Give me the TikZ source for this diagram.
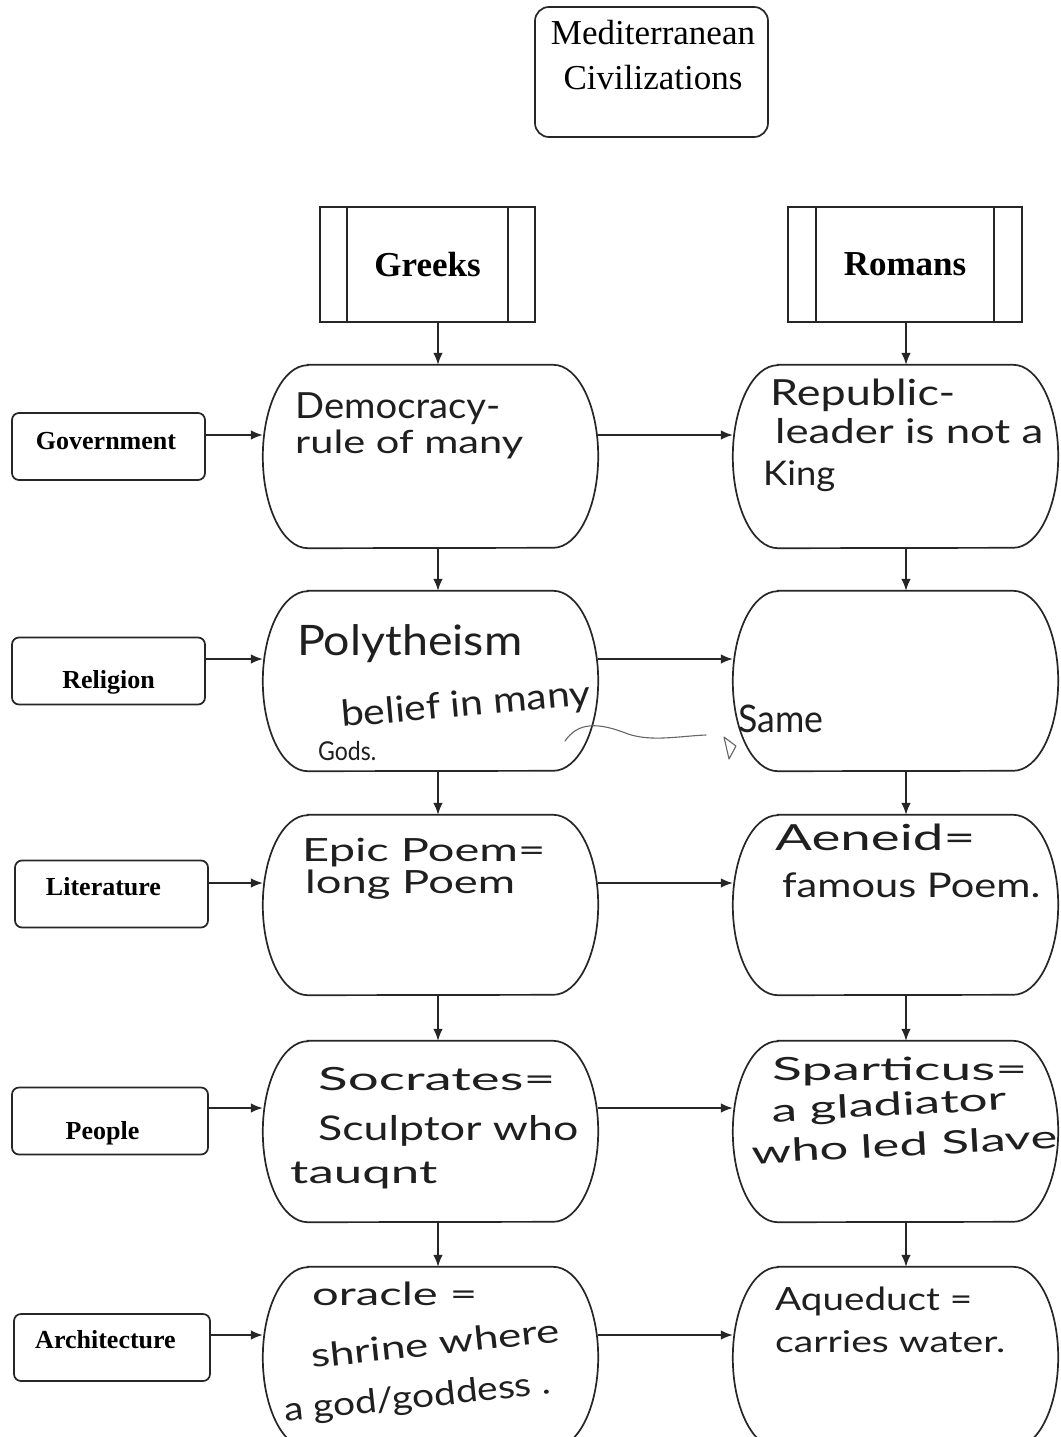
\documentclass[tikz,border=0pt]{standalone}
\usepackage{fontspec}
\usepackage{graphicx}
\setmainfont{Liberation Serif}
\newfontfamily\handfont{Lato}
\usetikzlibrary{arrows.meta,calc}

% handwritten line: size, width, text
\newcommand\hw[3]{\resizebox{#2pt}{\height}{\fontsize{#1pt}{#1pt}\selectfont\handfont #3}}
% horizontal radius of the curved cell sides
\newcommand\cellr{45pt}
% outline of a cell: flat top and bottom, half-ellipse sides
\newcommand\cellframe[2]{%
  \draw[ln] ([xshift=\cellr]#1.north west) -- ([xshift=-\cellr]#1.north east)
    arc[start angle=90,end angle=-90,x radius=\cellr,y radius=#2pt]
    -- ([xshift=\cellr]#1.south west)
    arc[start angle=270,end angle=90,x radius=\cellr,y radius=#2pt] -- cycle;}

\tikzset{
  ln/.style={draw=black!85, line width=1.7pt},
  arr/.style={draw=black!85, line width=1.5pt, -{Latex[length=12pt,width=9.5pt]}},
  procbox/.style={rectangle, ln, inner sep=0pt, font=\fontsize{35}{40}\selectfont\bfseries},
  labbox/.style={rectangle, ln, rounded corners=7pt, minimum height=67pt},
  labtext/.style={font=\fontsize{26}{30}\selectfont\bfseries, inner sep=0pt},
  cellbox/.style={rectangle, draw=none, inner sep=0pt},
  hand/.style={inner sep=0pt, anchor=base west, text=black!88},
  pen/.style={draw=black!60, line width=1.1pt, line cap=round, line join=round}
}

\begin{document}
\begin{tikzpicture}[x=1pt,y=-1pt]
\useasboundingbox (0,0) rectangle (1060,1437);
\fill[white] (0,0) rectangle (1060,1437);
\clip (0,0) rectangle (1060,1437);

% title
\node[rectangle, ln, rounded corners=14pt, minimum width=233pt, minimum height=130pt] (title) at (651.5,72) {};
\node[align=center, inner sep=0pt, font=\fontsize{35}{45}\selectfont] (titletext) at (653,55) {Mediterranean\\Civilizations};

% column heads
\node[procbox, minimum width=215pt, minimum height=115pt,
  path picture={
    \draw[ln] ([xshift=27pt]path picture bounding box.north west) -- ([xshift=27pt]path picture bounding box.south west);
    \draw[ln] ([xshift=-27pt]path picture bounding box.north east) -- ([xshift=-27pt]path picture bounding box.south east);
  }] (greeks) at (427.5,264.5) {Greeks};
\node[procbox, minimum width=234pt, minimum height=115pt,
  path picture={
    \draw[ln] ([xshift=28pt]path picture bounding box.north west) -- ([xshift=28pt]path picture bounding box.south west);
    \draw[ln] ([xshift=-28pt]path picture bounding box.north east) -- ([xshift=-28pt]path picture bounding box.south east);
  }] (romans) at (905,264.5) {Romans};

% row labels
\node[labbox, minimum width=193pt] (gov) at (108.5,446.5) {};
\node[labtext] (govt) at (106,441) {Government};
\node[labbox, minimum width=193pt] (rel) at (108.5,671) {};
\node[labtext] (relt) at (108.5,682) {Religion};
\node[labbox, minimum width=193pt] (lit) at (111.5,894) {};
\node[labtext] (litt) at (103.5,887) {Literature};
\node[labbox, minimum width=196pt] (peo) at (110,1121) {};
\node[labtext] (peot) at (102.5,1133) {People};
\node[labbox, minimum width=196pt] (arch) at (112,1347.5) {};
\node[labtext] (archt) at (105.5,1340) {Architecture};

% cells
\node[cellbox, minimum width=335pt, minimum height=183pt] (g1) at (430.5,456.5) {};
\node[cellbox, minimum width=335pt, minimum height=180pt] (g2) at (430.5,681) {};
\node[cellbox, minimum width=335pt, minimum height=180pt] (g3) at (430.5,905) {};
\node[cellbox, minimum width=335pt, minimum height=181pt] (g4) at (430.5,1131.5) {};
\node[cellbox, minimum width=335pt, minimum height=181pt] (g5) at (430.5,1357.5) {};
\node[cellbox, minimum width=325pt, minimum height=183pt] (r1) at (895.5,456.5) {};
\node[cellbox, minimum width=325pt, minimum height=180pt] (r2) at (895.5,681) {};
\node[cellbox, minimum width=325pt, minimum height=180pt] (r3) at (895.5,905) {};
\node[cellbox, minimum width=325pt, minimum height=181pt] (r4) at (895.5,1131.5) {};
\node[cellbox, minimum width=325pt, minimum height=181pt] (r5) at (895.5,1357.5) {};
\cellframe{g1}{91.5}\cellframe{g2}{90}\cellframe{g3}{90}\cellframe{g4}{90.5}\cellframe{g5}{90.5}
\cellframe{r1}{91.5}\cellframe{r2}{90}\cellframe{r3}{90}\cellframe{r4}{90.5}\cellframe{r5}{90.5}

% connector guides
\coordinate (gx) at (438,0);
\coordinate (rx) at (906,0);
\coordinate (row1) at (0,435);
\coordinate (row2) at (0,659);
\coordinate (row3) at (0,883);
\coordinate (row4) at (0,1108);
\coordinate (row5) at (0,1335);

% vertical arrows
\draw[arr] (greeks.south -| gx) -- (g1.north -| gx);
\draw[arr] (g1.south -| gx) -- (g2.north -| gx);
\draw[arr] (g2.south -| gx) -- (g3.north -| gx);
\draw[arr] (g3.south -| gx) -- (g4.north -| gx);
\draw[arr] (g4.south -| gx) -- (g5.north -| gx);
\draw[arr] (romans.south -| rx) -- (r1.north -| rx);
\draw[arr] (r1.south -| rx) -- (r2.north -| rx);
\draw[arr] (r2.south -| rx) -- (r3.north -| rx);
\draw[arr] (r3.south -| rx) -- (r4.north -| rx);
\draw[arr] (r4.south -| rx) -- (r5.north -| rx);

% horizontal arrows
\draw[arr] (gov.east |- row1) -- (g1.west |- row1);
\draw[arr] (rel.east |- row2) -- (g2.west |- row2);
\draw[arr] (lit.east |- row3) -- (g3.west |- row3);
\draw[arr] (peo.east |- row4) -- (g4.west |- row4);
\draw[arr] (arch.east |- row5) -- (g5.west |- row5);
\draw[arr] (g1.east |- row1) -- (r1.west |- row1);
\draw[arr] (g2.east |- row2) -- (r2.west |- row2);
\draw[arr] (g3.east |- row3) -- (r3.west |- row3);
\draw[arr] (g4.east |- row4) -- (r4.west |- row4);
\draw[arr] (g5.east |- row5) -- (r5.west |- row5);

% handwritten notes
\node[hand] (t1a) at (295,418) {\hw{36}{205}{Democracy-}};
\node[hand] (t1b) at (295,453) {\hw{32}{228}{rule of many}};
\node[hand] (u1a) at (770,405) {\hw{36}{185}{Republic-}};
\node[hand] (u1b) at (775,443) {\hw{34}{268}{leader is not a}};
\node[hand] (u1c) at (763,485) {\hw{34}{72}{King}};

\node[hand] (t2a) at (297,655) {\hw{42}{225}{Polytheism}};
\node[hand, rotate=5] (t2b) at (342,727) {\hw{36}{250}{belief in many}};
\node[hand] (t2c) at (318,760) {\hw{26}{58}{Gods.}};
\node[hand] (u2a) at (738,732) {\hw{38}{85}{Same}};

\node[hand] (t3a) at (302,861) {\hw{32}{243}{Epic Poem=}};
\node[hand] (t3b) at (305,893) {\hw{32}{210}{long Poem}};
\node[hand] (u3a) at (775,850) {\hw{36}{200}{Aeneid=}};
\node[hand] (u3b) at (782,897) {\hw{34}{258}{famous Poem.}};

\node[hand] (t4a) at (318,1090) {\hw{32}{237}{Socrates=}};
\node[hand] (t4b) at (318,1140) {\hw{34}{260}{Sculptor who}};
\node[hand] (t4c) at (290,1183) {\hw{32}{147}{tauqnt}};
\node[hand] (u4a) at (772,1080) {\hw{32}{255}{Sparticus=}};
\node[hand, rotate=3] (u4b) at (772,1122) {\hw{32}{235}{a gladiator}};
\node[hand, rotate=3] (u4c) at (752,1164) {\hw{32}{306}{who led Slave}};

\node[hand] (t5a) at (312,1305) {\hw{32}{165}{oracle =}};
\node[hand, rotate=6] (t5b) at (312,1368) {\hw{33}{250}{shrine where}};
\node[hand, rotate=6] (t5c) at (285,1422) {\hw{33}{268}{a god/goddess .}};
\node[hand] (u5a) at (775,1310) {\hw{32}{197}{Aqueduct =}};
\node[hand] (u5b) at (775,1352) {\hw{30}{230}{carries water.}};

% pencilled link between the religion cells
\coordinate (w0) at (565,741);
\coordinate (w1) at (706,735);
\draw[pen] (w0) .. controls (578,722) and (598,722) .. (628,734)
  .. controls (652,742) and (680,736) .. (w1);
\draw[pen] (724,737) -- (736,746) -- (729,759) -- cycle;
\end{tikzpicture}
\end{document}
